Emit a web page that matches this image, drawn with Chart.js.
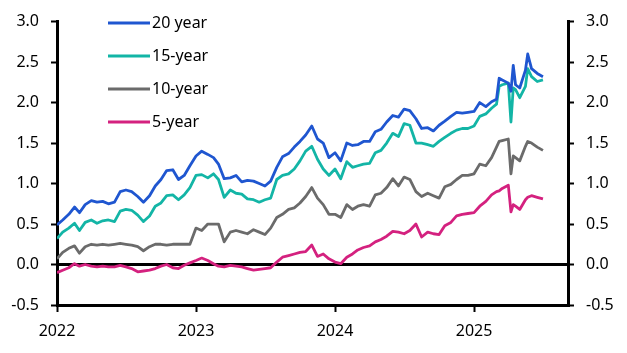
<!DOCTYPE html>
<html>
<head>
<meta charset="utf-8">
<script src="https://cdn.jsdelivr.net/npm/chart.js@4.4.1/dist/chart.umd.min.js"></script>
<style>
html, body { margin: 0; padding: 0; background: #fff; }
</style>
</head>
<body>
<canvas id="myChart" width="627" height="353"></canvas>
<script>
// fechas (quincenales, con algunos dias extra en 2025)
const dates = [
  '2022-01-01','2022-01-16','2022-02-01','2022-02-16','2022-03-01','2022-03-16','2022-04-01','2022-04-16',
  '2022-05-01','2022-05-16','2022-06-01','2022-06-16','2022-07-01','2022-07-16','2022-08-01','2022-08-16',
  '2022-09-01','2022-09-16','2022-10-01','2022-10-16','2022-11-01','2022-11-16','2022-12-01','2022-12-16',
  '2023-01-01','2023-01-16','2023-02-01','2023-02-16','2023-03-01','2023-03-16','2023-04-01','2023-04-16',
  '2023-05-01','2023-05-16','2023-06-01','2023-06-16','2023-07-01','2023-07-16','2023-08-01','2023-08-16',
  '2023-09-01','2023-09-16','2023-10-01','2023-10-16','2023-11-01','2023-11-16','2023-12-01','2023-12-16',
  '2024-01-01','2024-01-16','2024-02-01','2024-02-16','2024-03-01','2024-03-16','2024-04-01','2024-04-16',
  '2024-05-01','2024-05-16','2024-06-01','2024-06-16','2024-07-01','2024-07-16','2024-08-01','2024-08-16',
  '2024-09-01','2024-09-16','2024-10-01','2024-10-16','2024-11-01','2024-11-16','2024-12-01','2024-12-16',
  '2025-01-01','2025-01-16','2025-02-01','2025-02-16','2025-03-01','2025-03-08','2025-03-16','2025-04-01',
  '2025-04-08','2025-04-14','2025-04-20','2025-05-01','2025-05-16','2025-05-22','2025-06-01','2025-06-16',
  '2025-07-01'
];

const y20 = [
  0.49,0.55,0.62,0.71,0.64,0.74,0.79,0.77,0.78,0.75,0.77,0.90,0.92,0.90,0.84,0.77,0.85,0.97,1.05,1.16,1.17,1.05,1.10,1.22,
  1.34,1.40,1.36,1.32,1.24,1.06,1.07,1.10,1.02,1.04,1.03,1.00,0.97,1.03,1.20,1.33,1.37,1.45,1.52,1.60,1.71,1.55,1.50,1.32,
  1.38,1.28,1.50,1.47,1.48,1.52,1.52,1.64,1.67,1.76,1.84,1.82,1.92,1.90,1.80,1.68,1.69,1.65,1.72,1.77,1.83,1.88,1.87,1.88,
  1.89,2.00,1.95,2.01,2.04,2.30,2.28,2.24,2.14,2.46,2.22,2.18,2.40,2.60,2.42,2.36,2.32
];
const y15 = [
  0.32,0.40,0.45,0.51,0.42,0.52,0.55,0.51,0.54,0.55,0.53,0.66,0.68,0.67,0.61,0.53,0.60,0.72,0.76,0.85,0.86,0.80,0.86,0.95,
  1.10,1.11,1.07,1.12,1.05,0.83,0.92,0.88,0.87,0.81,0.80,0.77,0.80,0.82,1.05,1.10,1.12,1.18,1.28,1.40,1.46,1.30,1.18,1.10,
  1.18,1.06,1.27,1.20,1.22,1.24,1.25,1.38,1.41,1.50,1.62,1.58,1.74,1.72,1.50,1.50,1.48,1.46,1.52,1.57,1.62,1.66,1.68,1.68,
  1.71,1.83,1.86,1.93,1.98,2.20,2.22,2.24,1.76,2.18,2.16,2.06,2.20,2.42,2.32,2.26,2.28
];
const y10 = [
  0.07,0.15,0.20,0.23,0.14,0.22,0.25,0.24,0.25,0.24,0.25,0.26,0.25,0.24,0.22,0.17,0.22,0.25,0.25,0.24,0.25,0.25,0.25,0.25,
  0.45,0.42,0.50,0.50,0.50,0.28,0.40,0.42,0.40,0.38,0.43,0.40,0.37,0.45,0.58,0.62,0.68,0.70,0.76,0.84,0.95,0.82,0.74,0.62,
  0.62,0.58,0.74,0.68,0.72,0.74,0.72,0.86,0.88,0.95,1.06,0.97,1.08,1.05,0.90,0.84,0.88,0.85,0.82,0.96,0.99,1.05,1.10,1.10,
  1.12,1.24,1.22,1.32,1.45,1.52,1.53,1.55,1.12,1.34,1.32,1.28,1.46,1.52,1.50,1.45,1.41
];
const y5 = [
  -0.10,-0.07,-0.04,0.01,-0.02,0.00,-0.02,-0.03,-0.02,-0.03,-0.03,-0.01,-0.03,-0.05,-0.09,-0.08,-0.07,-0.05,-0.02,0.00,-0.04,-0.05,-0.01,0.02,
  0.05,0.08,0.05,0.01,-0.02,-0.03,-0.01,-0.02,-0.03,-0.05,-0.07,-0.06,-0.05,-0.04,0.03,0.09,0.11,0.13,0.15,0.16,0.24,0.10,0.13,0.07,
  0.03,0.01,0.09,0.13,0.18,0.21,0.23,0.28,0.31,0.35,0.41,0.40,0.38,0.42,0.50,0.34,0.40,0.38,0.37,0.48,0.52,0.60,0.62,0.63,
  0.64,0.72,0.78,0.86,0.90,0.91,0.94,0.98,0.65,0.74,0.72,0.68,0.80,0.83,0.85,0.83,0.81
];

const seriesNames = ['20 year', '15-year', '10-year', '5-year'];
const seriesColors = ['#1f56d0', '#13b5a6', '#6b6b6b', '#d4217f'];
const yearTicks = [2022, 2023, 2024, 2025];
const valueTicks = [-0.5, 0, 0.5, 1.0, 1.5, 2.0, 2.5, 3.0];

// fecha -> año decimal
let toYear = function(s){
    let d = new Date(s + 'T00:00:00Z');
    let y = d.getUTCFullYear();
    let start = Date.UTC(y, 0, 1), end = Date.UTC(y + 1, 0, 1);
    return y + (d.getTime() - start) / (end - start);
};
const xs = dates.map(toYear);
let pts = function(vals){
    return vals.map((v, i) => ({x: xs[i], y: v}));
};

Chart.defaults.font.family = "'Noto Sans', sans-serif";
Chart.defaults.font.size = 16;
Chart.defaults.color = '#000';

// leyenda dentro del area del grafico
let legendBox = {
    id: 'legendBox',
    afterDraw(chart){
        let c = chart.ctx;
        c.save();
        chart.data.datasets.forEach((ds, i) => {
            let y = 23 + i * 33;
            c.strokeStyle = ds.borderColor;
            c.lineWidth = 3;
            c.beginPath();
            c.moveTo(108, y);
            c.lineTo(150, y);
            c.stroke();
            c.fillStyle = '#000';
            c.font = "16px 'Noto Sans'";
            c.textBaseline = 'middle';
            c.textAlign = 'left';
            c.fillText(ds.label, 152, y);
        });
        c.restore();
    }
};

let yAxis = function(pos, w, zeroLine){
    return {
        position: pos,
        min: -0.5,
        max: 3.0,
        afterBuildTicks: s => { s.ticks = valueTicks.map(v => ({value: v})); },
        afterFit: s => { s.width = w; },
        border: {color: '#000', width: 3},
        grid: {
            drawOnChartArea: zeroLine,
            color: ctx => (ctx.tick && ctx.tick.value === 0) ? '#000' : 'rgba(0,0,0,0)',
            lineWidth: 3,
            tickColor: '#000',
            tickWidth: 2,
            tickLength: 6
        },
        ticks: {padding: 12, callback: v => Number(v).toFixed(1)}
    };
};

let ctx = document.getElementById('myChart').getContext('2d');
let chart = new Chart(ctx, {
    type: 'line',
    data: {
        datasets: [y20, y15, y10, y5].map((vals, i) => ({
            label: seriesNames[i],
            data: pts(vals),
            borderColor: seriesColors[i],
            backgroundColor: seriesColors[i],
            borderWidth: 2.8,
            pointRadius: 0,
            tension: 0,
            borderJoinStyle: 'round'
        }))
    },
    options: {
        responsive: false,
        animation: false,
        layout: {padding: {top: 15, left: 0, right: 0, bottom: 0}},
        plugins: {legend: {display: false}, tooltip: {enabled: false}},
        scales: {
            x: {
                type: 'linear',
                min: 2022,
                max: 2025.676,
                afterBuildTicks: s => { s.ticks = yearTicks.map(v => ({value: v})); },
                afterFit: s => { s.height = 48; },
                border: {color: '#000', width: 3},
                grid: {drawOnChartArea: false, color: '#000', tickColor: '#000', tickWidth: 2, tickLength: 7},
                ticks: {padding: 10, maxRotation: 0, callback: v => String(v)}
            },
            y: yAxis('left', 57, true),
            y2: yAxis('right', 59, false)
        }
    },
    plugins: [legendBox]
});
</script>
</body>
</html>
